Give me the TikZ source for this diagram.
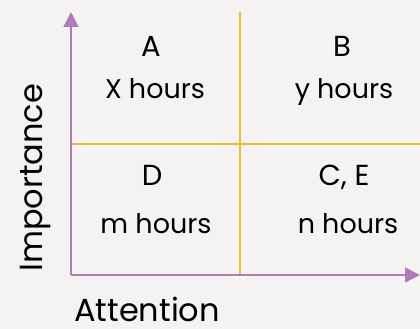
\documentclass[tikz,border=0pt]{standalone}
\usepackage{fontspec}
\setmainfont{Poppins}
\usetikzlibrary{arrows.meta,positioning}
\definecolor{bgcol}{HTML}{F5F3F1}
\definecolor{axcol}{HTML}{B07CB8}
\definecolor{gridcol}{HTML}{F5B82E}
\tikzset{axis/.style={draw=axcol, line width=1.5pt, -{Triangle[length=15pt,width=15pt]}},
	grid/.style={draw=gridcol, line width=1.2pt},
	quad/.style={inner sep=0pt, anchor=base, font=\fontsize{29}{32}\selectfont},
	hrs/.style={inner sep=0pt, anchor=base, font=\fontsize{27}{30}\selectfont},
	lbl/.style={inner sep=0pt, anchor=base west, font=\fontsize{32}{36}\selectfont}}

\begin{document}
\begin{tikzpicture}[x=1pt, y=1pt]
\fill[bgcol] (0,0) rectangle (420,329);
\useasboundingbox (0,0) rectangle (420,329);
\coordinate (O) at (71,54);
\coordinate (Ytop) at (71,317);
\coordinate (Xend) at (420,54);
\coordinate (Vtop) at (240,317);
\coordinate (Vbot) at (240,54);
\coordinate (Hl) at (71,185);
\coordinate (Hr) at (420,185);
\path[grid] (Vbot) -- (Vtop)
	(Hl) -- (Hr);
\path[axis] (O) -- (Ytop);
\path[axis] (O) -- (Xend);
\node[quad] (QA) at (151,272) {A};
\node[hrs] (HA) at (155,230) {X hours};
\node[quad] (QB) at (342,272) {B};
\node[hrs] (HB) at (344,230) {y hours};
\node[quad] (QD) at (152,143) {D};
\node[hrs] (HD) at (156,95) {m hours};
\node[quad] (QC) at (344,143) {C, E};
\node[hrs] (HC) at (348,95) {n hours};
\node[lbl, rotate=90] (imp) at (42,57) {Importance};
\node[lbl] (att) at (74,7) {Attention};
\end{tikzpicture}
\end{document}
